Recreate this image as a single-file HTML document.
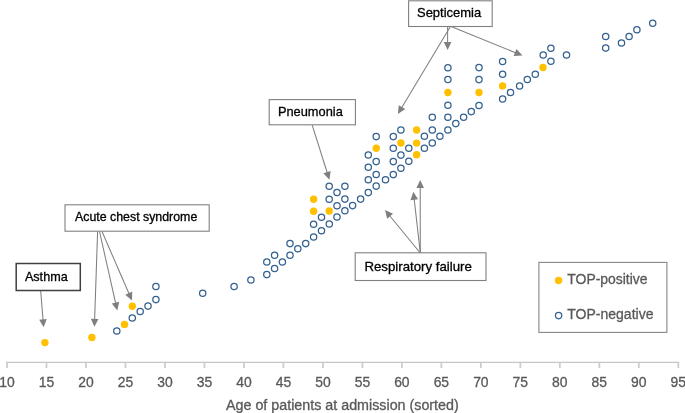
<!DOCTYPE html>
<html><head><meta charset="utf-8"><style>
html,body{margin:0;padding:0;background:#fff;width:685px;height:413px;overflow:hidden}
svg{display:block;will-change:transform}
text{font-family:"Liberation Sans",sans-serif}
.tk{font-size:13.9px;fill:#595959}
.tt{font-size:13.4px;fill:#595959}
.an{font-size:12.7px;fill:#000}
.lg{font-size:12.9px;fill:#595959}
</style></head><body>
<svg width="685" height="413" viewBox="0 0 685 413">
<line x1="6.10" y1="362.4" x2="679.20" y2="362.4" stroke="#C6C6C6" stroke-width="1.4"/>
<line x1="7.00" y1="362.4" x2="7.00" y2="368" stroke="#CDCDCD" stroke-width="1.8"/>
<text x="7.00" y="386.8" class="tk" text-anchor="middle" stroke="#595959" stroke-width="0.3">10</text>
<line x1="46.49" y1="362.4" x2="46.49" y2="368" stroke="#CDCDCD" stroke-width="1.8"/>
<text x="46.49" y="386.8" class="tk" text-anchor="middle" stroke="#595959" stroke-width="0.3">15</text>
<line x1="85.98" y1="362.4" x2="85.98" y2="368" stroke="#CDCDCD" stroke-width="1.8"/>
<text x="85.98" y="386.8" class="tk" text-anchor="middle" stroke="#595959" stroke-width="0.3">20</text>
<line x1="125.46" y1="362.4" x2="125.46" y2="368" stroke="#CDCDCD" stroke-width="1.8"/>
<text x="125.46" y="386.8" class="tk" text-anchor="middle" stroke="#595959" stroke-width="0.3">25</text>
<line x1="164.95" y1="362.4" x2="164.95" y2="368" stroke="#CDCDCD" stroke-width="1.8"/>
<text x="164.95" y="386.8" class="tk" text-anchor="middle" stroke="#595959" stroke-width="0.3">30</text>
<line x1="204.44" y1="362.4" x2="204.44" y2="368" stroke="#CDCDCD" stroke-width="1.8"/>
<text x="204.44" y="386.8" class="tk" text-anchor="middle" stroke="#595959" stroke-width="0.3">35</text>
<line x1="243.93" y1="362.4" x2="243.93" y2="368" stroke="#CDCDCD" stroke-width="1.8"/>
<text x="243.93" y="386.8" class="tk" text-anchor="middle" stroke="#595959" stroke-width="0.3">40</text>
<line x1="283.42" y1="362.4" x2="283.42" y2="368" stroke="#CDCDCD" stroke-width="1.8"/>
<text x="283.42" y="386.8" class="tk" text-anchor="middle" stroke="#595959" stroke-width="0.3">45</text>
<line x1="322.91" y1="362.4" x2="322.91" y2="368" stroke="#CDCDCD" stroke-width="1.8"/>
<text x="322.91" y="386.8" class="tk" text-anchor="middle" stroke="#595959" stroke-width="0.3">50</text>
<line x1="362.39" y1="362.4" x2="362.39" y2="368" stroke="#CDCDCD" stroke-width="1.8"/>
<text x="362.39" y="386.8" class="tk" text-anchor="middle" stroke="#595959" stroke-width="0.3">55</text>
<line x1="401.88" y1="362.4" x2="401.88" y2="368" stroke="#CDCDCD" stroke-width="1.8"/>
<text x="401.88" y="386.8" class="tk" text-anchor="middle" stroke="#595959" stroke-width="0.3">60</text>
<line x1="441.37" y1="362.4" x2="441.37" y2="368" stroke="#CDCDCD" stroke-width="1.8"/>
<text x="441.37" y="386.8" class="tk" text-anchor="middle" stroke="#595959" stroke-width="0.3">65</text>
<line x1="480.86" y1="362.4" x2="480.86" y2="368" stroke="#CDCDCD" stroke-width="1.8"/>
<text x="480.86" y="386.8" class="tk" text-anchor="middle" stroke="#595959" stroke-width="0.3">70</text>
<line x1="520.35" y1="362.4" x2="520.35" y2="368" stroke="#CDCDCD" stroke-width="1.8"/>
<text x="520.35" y="386.8" class="tk" text-anchor="middle" stroke="#595959" stroke-width="0.3">75</text>
<line x1="559.84" y1="362.4" x2="559.84" y2="368" stroke="#CDCDCD" stroke-width="1.8"/>
<text x="559.84" y="386.8" class="tk" text-anchor="middle" stroke="#595959" stroke-width="0.3">80</text>
<line x1="599.32" y1="362.4" x2="599.32" y2="368" stroke="#CDCDCD" stroke-width="1.8"/>
<text x="599.32" y="386.8" class="tk" text-anchor="middle" stroke="#595959" stroke-width="0.3">85</text>
<line x1="638.81" y1="362.4" x2="638.81" y2="368" stroke="#CDCDCD" stroke-width="1.8"/>
<text x="638.81" y="386.8" class="tk" text-anchor="middle" stroke="#595959" stroke-width="0.3">90</text>
<line x1="678.30" y1="362.4" x2="678.30" y2="368" stroke="#CDCDCD" stroke-width="1.8"/>
<text x="678.30" y="386.8" class="tk" text-anchor="middle" stroke="#595959" stroke-width="0.3">95</text>
<text x="226.0" y="409.6" font-size="13.8" fill="#595959" stroke="#595959" stroke-width="0.3" textLength="232.73" lengthAdjust="spacingAndGlyphs">Age of patients at admission (sorted)</text>
<line x1="40.70" y1="291.00" x2="43.07" y2="320.32" stroke="#7F7F7F" stroke-width="1.05"/><polygon points="43.63,327.30 39.20,319.63 46.78,319.02" fill="#7F7F7F"/>
<line x1="97.60" y1="231.50" x2="94.62" y2="319.80" stroke="#7F7F7F" stroke-width="1.05"/><polygon points="94.39,326.80 90.86,318.68 98.45,318.93" fill="#7F7F7F"/>
<line x1="99.50" y1="231.50" x2="115.75" y2="303.56" stroke="#7F7F7F" stroke-width="1.05"/><polygon points="117.29,310.39 111.82,303.42 119.24,301.75" fill="#7F7F7F"/>
<line x1="102.00" y1="231.50" x2="129.17" y2="294.05" stroke="#7F7F7F" stroke-width="1.05"/><polygon points="131.96,300.47 125.29,294.64 132.26,291.62" fill="#7F7F7F"/>
<line x1="312.20" y1="125.20" x2="327.31" y2="173.01" stroke="#7F7F7F" stroke-width="1.05"/><polygon points="329.42,179.68 323.39,173.20 330.63,170.91" fill="#7F7F7F"/>
<line x1="447.60" y1="26.50" x2="447.60" y2="42.90" stroke="#7F7F7F" stroke-width="1.05"/><polygon points="447.60,49.90 443.80,41.90 451.40,41.90" fill="#7F7F7F"/>
<line x1="450.40" y1="26.50" x2="401.50" y2="107.94" stroke="#7F7F7F" stroke-width="1.05"/><polygon points="397.89,113.94 398.75,105.13 405.27,109.04" fill="#7F7F7F"/>
<line x1="451.10" y1="26.50" x2="515.99" y2="52.91" stroke="#7F7F7F" stroke-width="1.05"/><polygon points="522.47,55.55 513.63,56.05 516.49,49.02" fill="#7F7F7F"/>
<line x1="420.30" y1="253.00" x2="420.21" y2="186.90" stroke="#7F7F7F" stroke-width="1.05"/><polygon points="420.20,179.90 424.01,187.89 416.41,187.91" fill="#7F7F7F"/>
<line x1="420.30" y1="253.00" x2="414.14" y2="198.76" stroke="#7F7F7F" stroke-width="1.05"/><polygon points="413.35,191.80 418.03,199.32 410.48,200.18" fill="#7F7F7F"/>
<line x1="420.30" y1="253.00" x2="389.49" y2="215.50" stroke="#7F7F7F" stroke-width="1.05"/><polygon points="385.05,210.09 393.06,213.86 387.19,218.68" fill="#7F7F7F"/>
<rect x="16.20" y="263.50" width="64.10" height="27.00" fill="#fff" stroke="#404040" stroke-width="1.5"/><text x="24.9" y="281.0" font-size="13.1" fill="#000" stroke="#000" stroke-width="0.3" textLength="42.79" lengthAdjust="spacingAndGlyphs">Asthma</text>
<rect x="65.00" y="204.80" width="144.20" height="26.40" fill="#fff" stroke="#808080" stroke-width="1.1"/><text x="75.0" y="221.0" font-size="11.9" fill="#000" stroke="#000" stroke-width="0.3" textLength="122.28" lengthAdjust="spacingAndGlyphs">Acute chest syndrome</text>
<rect x="269.20" y="99.60" width="86.20" height="25.20" fill="#fff" stroke="#808080" stroke-width="1.1"/><text x="277.9" y="115.7" font-size="13.2" fill="#000" stroke="#000" stroke-width="0.3" textLength="64.9" lengthAdjust="spacingAndGlyphs">Pneumonia</text>
<rect x="408.60" y="0.80" width="83.60" height="25.70" fill="#fff" stroke="#808080" stroke-width="1.1"/><text x="417.0" y="16.6" font-size="13.4" fill="#000" stroke="#000" stroke-width="0.3" textLength="64.21" lengthAdjust="spacingAndGlyphs">Septicemia</text>
<rect x="355.20" y="252.80" width="130.80" height="27.70" fill="#fff" stroke="#808080" stroke-width="1.1"/><text x="364.4" y="270.9" font-size="13.1" fill="#000" stroke="#000" stroke-width="0.3" textLength="107.46" lengthAdjust="spacingAndGlyphs">Respiratory failure</text>
<circle cx="116.8" cy="330.9" r="3.15" fill="none" stroke="#33608F" stroke-width="1.25"/>
<circle cx="132.3" cy="317.9" r="3.15" fill="none" stroke="#33608F" stroke-width="1.25"/>
<circle cx="140.2" cy="311.4" r="3.15" fill="none" stroke="#33608F" stroke-width="1.25"/>
<circle cx="148" cy="306.1" r="3.15" fill="none" stroke="#33608F" stroke-width="1.25"/>
<circle cx="155.9" cy="299.6" r="3.15" fill="none" stroke="#33608F" stroke-width="1.25"/>
<circle cx="155.9" cy="286.5" r="3.15" fill="none" stroke="#33608F" stroke-width="1.25"/>
<circle cx="202.7" cy="293.2" r="3.15" fill="none" stroke="#33608F" stroke-width="1.25"/>
<circle cx="234.1" cy="286.5" r="3.15" fill="none" stroke="#33608F" stroke-width="1.25"/>
<circle cx="250.9" cy="280" r="3.15" fill="none" stroke="#33608F" stroke-width="1.25"/>
<circle cx="266.8" cy="274.6" r="3.15" fill="none" stroke="#33608F" stroke-width="1.25"/>
<circle cx="266.8" cy="261.9" r="3.15" fill="none" stroke="#33608F" stroke-width="1.25"/>
<circle cx="274.6" cy="268.4" r="3.15" fill="none" stroke="#33608F" stroke-width="1.25"/>
<circle cx="274.6" cy="255.3" r="3.15" fill="none" stroke="#33608F" stroke-width="1.25"/>
<circle cx="282.4" cy="261.9" r="3.15" fill="none" stroke="#33608F" stroke-width="1.25"/>
<circle cx="290" cy="255.3" r="3.15" fill="none" stroke="#33608F" stroke-width="1.25"/>
<circle cx="290" cy="243.6" r="3.15" fill="none" stroke="#33608F" stroke-width="1.25"/>
<circle cx="297.8" cy="248.7" r="3.15" fill="none" stroke="#33608F" stroke-width="1.25"/>
<circle cx="305.7" cy="243.6" r="3.15" fill="none" stroke="#33608F" stroke-width="1.25"/>
<circle cx="313.6" cy="237" r="3.15" fill="none" stroke="#33608F" stroke-width="1.25"/>
<circle cx="313.6" cy="224.2" r="3.15" fill="none" stroke="#33608F" stroke-width="1.25"/>
<circle cx="321.5" cy="230.7" r="3.15" fill="none" stroke="#33608F" stroke-width="1.25"/>
<circle cx="321.5" cy="217.3" r="3.15" fill="none" stroke="#33608F" stroke-width="1.25"/>
<circle cx="329.3" cy="223.9" r="3.15" fill="none" stroke="#33608F" stroke-width="1.25"/>
<circle cx="329.2" cy="199.2" r="3.15" fill="none" stroke="#33608F" stroke-width="1.25"/>
<circle cx="329.2" cy="186.2" r="3.15" fill="none" stroke="#33608F" stroke-width="1.25"/>
<circle cx="337" cy="217" r="3.15" fill="none" stroke="#33608F" stroke-width="1.25"/>
<circle cx="337" cy="205.7" r="3.15" fill="none" stroke="#33608F" stroke-width="1.25"/>
<circle cx="337" cy="192.4" r="3.15" fill="none" stroke="#33608F" stroke-width="1.25"/>
<circle cx="344.9" cy="210.7" r="3.15" fill="none" stroke="#33608F" stroke-width="1.25"/>
<circle cx="344.9" cy="199.1" r="3.15" fill="none" stroke="#33608F" stroke-width="1.25"/>
<circle cx="344.9" cy="186.2" r="3.15" fill="none" stroke="#33608F" stroke-width="1.25"/>
<circle cx="352.6" cy="205.6" r="3.15" fill="none" stroke="#33608F" stroke-width="1.25"/>
<circle cx="360.6" cy="199.1" r="3.15" fill="none" stroke="#33608F" stroke-width="1.25"/>
<circle cx="368.3" cy="192.6" r="3.15" fill="none" stroke="#33608F" stroke-width="1.25"/>
<circle cx="368.3" cy="179.8" r="3.15" fill="none" stroke="#33608F" stroke-width="1.25"/>
<circle cx="368.3" cy="167.2" r="3.15" fill="none" stroke="#33608F" stroke-width="1.25"/>
<circle cx="368.3" cy="154.9" r="3.15" fill="none" stroke="#33608F" stroke-width="1.25"/>
<circle cx="376.2" cy="186.1" r="3.15" fill="none" stroke="#33608F" stroke-width="1.25"/>
<circle cx="376.2" cy="174.4" r="3.15" fill="none" stroke="#33608F" stroke-width="1.25"/>
<circle cx="376.2" cy="161.6" r="3.15" fill="none" stroke="#33608F" stroke-width="1.25"/>
<circle cx="376.2" cy="136.6" r="3.15" fill="none" stroke="#33608F" stroke-width="1.25"/>
<circle cx="385.5" cy="179.7" r="3.15" fill="none" stroke="#33608F" stroke-width="1.25"/>
<circle cx="393.3" cy="174.6" r="3.15" fill="none" stroke="#33608F" stroke-width="1.25"/>
<circle cx="393.3" cy="161.6" r="3.15" fill="none" stroke="#33608F" stroke-width="1.25"/>
<circle cx="393.3" cy="148.3" r="3.15" fill="none" stroke="#33608F" stroke-width="1.25"/>
<circle cx="393.3" cy="136.6" r="3.15" fill="none" stroke="#33608F" stroke-width="1.25"/>
<circle cx="400.9" cy="168.2" r="3.15" fill="none" stroke="#33608F" stroke-width="1.25"/>
<circle cx="400.9" cy="155.1" r="3.15" fill="none" stroke="#33608F" stroke-width="1.25"/>
<circle cx="400.9" cy="130" r="3.15" fill="none" stroke="#33608F" stroke-width="1.25"/>
<circle cx="408.8" cy="161.2" r="3.15" fill="none" stroke="#33608F" stroke-width="1.25"/>
<circle cx="408.8" cy="148.3" r="3.15" fill="none" stroke="#33608F" stroke-width="1.25"/>
<circle cx="424.4" cy="148.3" r="3.15" fill="none" stroke="#33608F" stroke-width="1.25"/>
<circle cx="424.4" cy="136.3" r="3.15" fill="none" stroke="#33608F" stroke-width="1.25"/>
<circle cx="432.3" cy="142.9" r="3.15" fill="none" stroke="#33608F" stroke-width="1.25"/>
<circle cx="432.3" cy="130" r="3.15" fill="none" stroke="#33608F" stroke-width="1.25"/>
<circle cx="432.3" cy="117.3" r="3.15" fill="none" stroke="#33608F" stroke-width="1.25"/>
<circle cx="439.9" cy="136.3" r="3.15" fill="none" stroke="#33608F" stroke-width="1.25"/>
<circle cx="447.9" cy="130" r="3.15" fill="none" stroke="#33608F" stroke-width="1.25"/>
<circle cx="447.9" cy="117.3" r="3.15" fill="none" stroke="#33608F" stroke-width="1.25"/>
<circle cx="447.9" cy="105.3" r="3.15" fill="none" stroke="#33608F" stroke-width="1.25"/>
<circle cx="447.9" cy="79.4" r="3.15" fill="none" stroke="#33608F" stroke-width="1.25"/>
<circle cx="447.9" cy="67.8" r="3.15" fill="none" stroke="#33608F" stroke-width="1.25"/>
<circle cx="455.8" cy="123.6" r="3.15" fill="none" stroke="#33608F" stroke-width="1.25"/>
<circle cx="463.6" cy="117.2" r="3.15" fill="none" stroke="#33608F" stroke-width="1.25"/>
<circle cx="471.3" cy="111.6" r="3.15" fill="none" stroke="#33608F" stroke-width="1.25"/>
<circle cx="479" cy="105.4" r="3.15" fill="none" stroke="#33608F" stroke-width="1.25"/>
<circle cx="479" cy="79.6" r="3.15" fill="none" stroke="#33608F" stroke-width="1.25"/>
<circle cx="479" cy="67.6" r="3.15" fill="none" stroke="#33608F" stroke-width="1.25"/>
<circle cx="502.6" cy="99" r="3.15" fill="none" stroke="#33608F" stroke-width="1.25"/>
<circle cx="502.6" cy="74.2" r="3.15" fill="none" stroke="#33608F" stroke-width="1.25"/>
<circle cx="502.6" cy="61.4" r="3.15" fill="none" stroke="#33608F" stroke-width="1.25"/>
<circle cx="510.5" cy="92.5" r="3.15" fill="none" stroke="#33608F" stroke-width="1.25"/>
<circle cx="519.6" cy="85.9" r="3.15" fill="none" stroke="#33608F" stroke-width="1.25"/>
<circle cx="527.3" cy="79.5" r="3.15" fill="none" stroke="#33608F" stroke-width="1.25"/>
<circle cx="535.3" cy="74.2" r="3.15" fill="none" stroke="#33608F" stroke-width="1.25"/>
<circle cx="543.2" cy="55" r="3.15" fill="none" stroke="#33608F" stroke-width="1.25"/>
<circle cx="550.9" cy="61.3" r="3.15" fill="none" stroke="#33608F" stroke-width="1.25"/>
<circle cx="550.9" cy="48.2" r="3.15" fill="none" stroke="#33608F" stroke-width="1.25"/>
<circle cx="566.5" cy="55" r="3.15" fill="none" stroke="#33608F" stroke-width="1.25"/>
<circle cx="605.7" cy="48.1" r="3.15" fill="none" stroke="#33608F" stroke-width="1.25"/>
<circle cx="605.7" cy="36.4" r="3.15" fill="none" stroke="#33608F" stroke-width="1.25"/>
<circle cx="621.5" cy="42.9" r="3.15" fill="none" stroke="#33608F" stroke-width="1.25"/>
<circle cx="629.1" cy="36.4" r="3.15" fill="none" stroke="#33608F" stroke-width="1.25"/>
<circle cx="636.9" cy="29.7" r="3.15" fill="none" stroke="#33608F" stroke-width="1.25"/>
<circle cx="652.7" cy="23.3" r="3.15" fill="none" stroke="#33608F" stroke-width="1.25"/>
<circle cx="44.9" cy="342.6" r="3.7" fill="#FFC000"/>
<circle cx="91.9" cy="337.5" r="3.7" fill="#FFC000"/>
<circle cx="124.5" cy="324.4" r="3.7" fill="#FFC000"/>
<circle cx="132.3" cy="306.2" r="3.7" fill="#FFC000"/>
<circle cx="313.6" cy="199.2" r="3.7" fill="#FFC000"/>
<circle cx="313.6" cy="211.2" r="3.7" fill="#FFC000"/>
<circle cx="329.2" cy="211" r="3.7" fill="#FFC000"/>
<circle cx="376.3" cy="148.2" r="3.7" fill="#FFC000"/>
<circle cx="400.9" cy="143" r="3.7" fill="#FFC000"/>
<circle cx="416.6" cy="130" r="3.7" fill="#FFC000"/>
<circle cx="416.6" cy="143.1" r="3.7" fill="#FFC000"/>
<circle cx="416.6" cy="154.8" r="3.7" fill="#FFC000"/>
<circle cx="447.9" cy="92.5" r="3.7" fill="#FFC000"/>
<circle cx="479" cy="92.5" r="3.7" fill="#FFC000"/>
<circle cx="502.6" cy="85.9" r="3.7" fill="#FFC000"/>
<circle cx="543" cy="67.5" r="3.7" fill="#FFC000"/>
<rect x="538.9" y="262.4" width="128" height="70" fill="#fff" stroke="#868686" stroke-width="1.1"/>
<circle cx="558.6" cy="280.5" r="3.7" fill="#FFC000"/>
<circle cx="558.6" cy="315.6" r="3.15" fill="none" stroke="#33608F" stroke-width="1.25"/>
<text x="567.3" y="283.6" font-size="14.0" fill="#595959" stroke="#595959" stroke-width="0.3" textLength="80.27" lengthAdjust="spacingAndGlyphs">TOP-positive</text>
<text x="567.3" y="318.9" font-size="14.0" fill="#595959" stroke="#595959" stroke-width="0.3" textLength="86.13" lengthAdjust="spacingAndGlyphs">TOP-negative</text>
</svg>
</body></html>
